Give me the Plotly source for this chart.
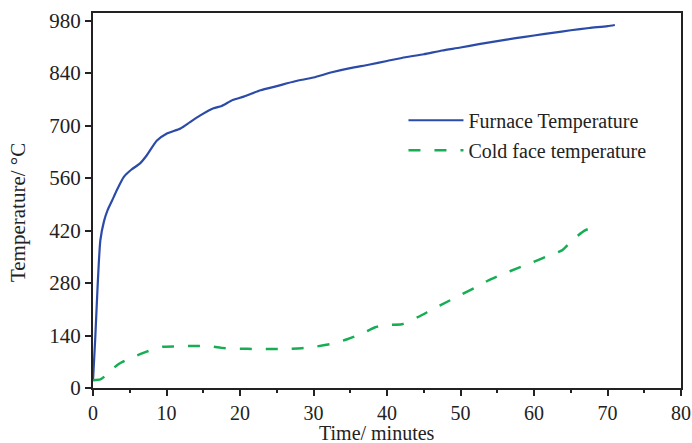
import plotly.graph_objects as go

# Furnace temperature (time in minutes, temperature in °C)
furnace_t = [0, 0.3, 0.6, 1, 1.5, 2, 2.6, 3.3, 4.2, 5.2, 6.4, 7.3, 8.7, 10, 11.9, 13.2, 14.6,
             16.4, 17.5, 19, 20.5, 22.8, 25, 27.5, 30, 32.5, 35, 37.5, 40, 42.5, 45, 47.5,
             50, 52.5, 55, 57.5, 60, 62.5, 65, 67.5, 70, 71]
furnace_v = [20, 130, 260, 394, 445, 475, 500, 530, 563, 582, 599, 620, 660, 678, 692, 709, 727,
             746, 752, 768, 777, 794, 805, 818, 828, 842, 853, 862, 872, 882, 890, 900,
             908, 917, 925, 933, 940, 947, 954, 960, 965, 968]

# Cold face temperature
cold_t = [0, 1, 1.7, 2.5, 3.5, 5, 6, 7.3, 8.5, 9.5, 11.4, 13.2, 15.7, 17.5, 20, 22, 24, 26,
          28.4, 30.2, 32.7, 34.6, 36.6, 38.4, 40, 42, 43, 44.5, 46.2, 48.4, 50, 52.1, 53.7,
          55.9, 57.7, 59.8, 61.6, 63.8, 65.2, 67, 68.8]
cold_v = [21, 23, 33, 48, 64, 79, 87, 97, 105, 110, 111, 112, 112, 107, 105, 104, 104, 104,
          106, 110, 119, 130, 145, 162, 168, 170, 178, 192, 210, 232, 248, 269, 286,
          305, 319, 335, 350, 367, 394, 421, 431]

x_ticks = [0, 10, 20, 30, 40, 50, 60, 70, 80]
y_ticks = [0, 140, 280, 420, 560, 700, 840, 980]
x_title = "Time/ minutes"
y_title = "Temperature/ °C"

FONT = "Liberation Serif, Times New Roman, serif"
INK = "#222222"

fig = go.Figure()
fig.add_trace(go.Scatter(x=furnace_t, y=furnace_v, mode="lines", name="Furnace Temperature",
                         legendgroup="a",
                         line=dict(color="#2B4BA8", width=2.2, shape="spline", smoothing=0.6)))
fig.add_trace(go.Scatter(x=cold_t, y=cold_v, mode="lines", name="Cold face temperature",
                         legendgroup="b",
                         line=dict(color="#17AD55", width=2.5, dash="12px,14px",
                                   shape="spline", smoothing=0.6)))

fig.update_layout(
    width=692, height=443,
    margin=dict(l=93, r=11, t=13, b=55),
    paper_bgcolor="white", plot_bgcolor="white",
    font=dict(family=FONT, size=20, color=INK),
    showlegend=True,
    legend=dict(x=0.528, y=0.766, xanchor="left", yanchor="top",
                font=dict(family=FONT, size=20, color=INK),
                bgcolor="rgba(0,0,0,0)", tracegroupgap=1, itemwidth=55),
    xaxis=dict(range=[0, 80], tickvals=x_ticks, ticks="outside", ticklen=6, tickwidth=2,
               tickcolor=INK, showline=True, linecolor=INK, linewidth=2,
               mirror=True, showgrid=False, zeroline=False, automargin=False,
               minor=dict(ticks="outside", dtick=5, ticklen=3, tickwidth=2, tickcolor=INK),
               tickfont=dict(size=20)),
    yaxis=dict(range=[0, 1000], tickvals=y_ticks, ticks="outside", ticklen=6, tickwidth=2,
               tickcolor=INK, showline=True, linecolor=INK, linewidth=2,
               mirror=True, showgrid=False, zeroline=False, automargin=False,
               tickfont=dict(size=21)),
    annotations=[
        dict(text=x_title, xref="paper", yref="paper", x=0.4838, y=-0.119,
             xanchor="center", yanchor="middle", showarrow=False,
             font=dict(family=FONT, size=20, color=INK)),
        dict(text=y_title, xref="paper", yref="paper", x=-0.1276, y=0.469,
             xanchor="center", yanchor="middle", textangle=-90, showarrow=False,
             font=dict(family=FONT, size=21, color=INK)),
    ],
)

fig.write_html("out.html", config={"displayModeBar": False},
               post_script="document.body.style.margin='0';")
